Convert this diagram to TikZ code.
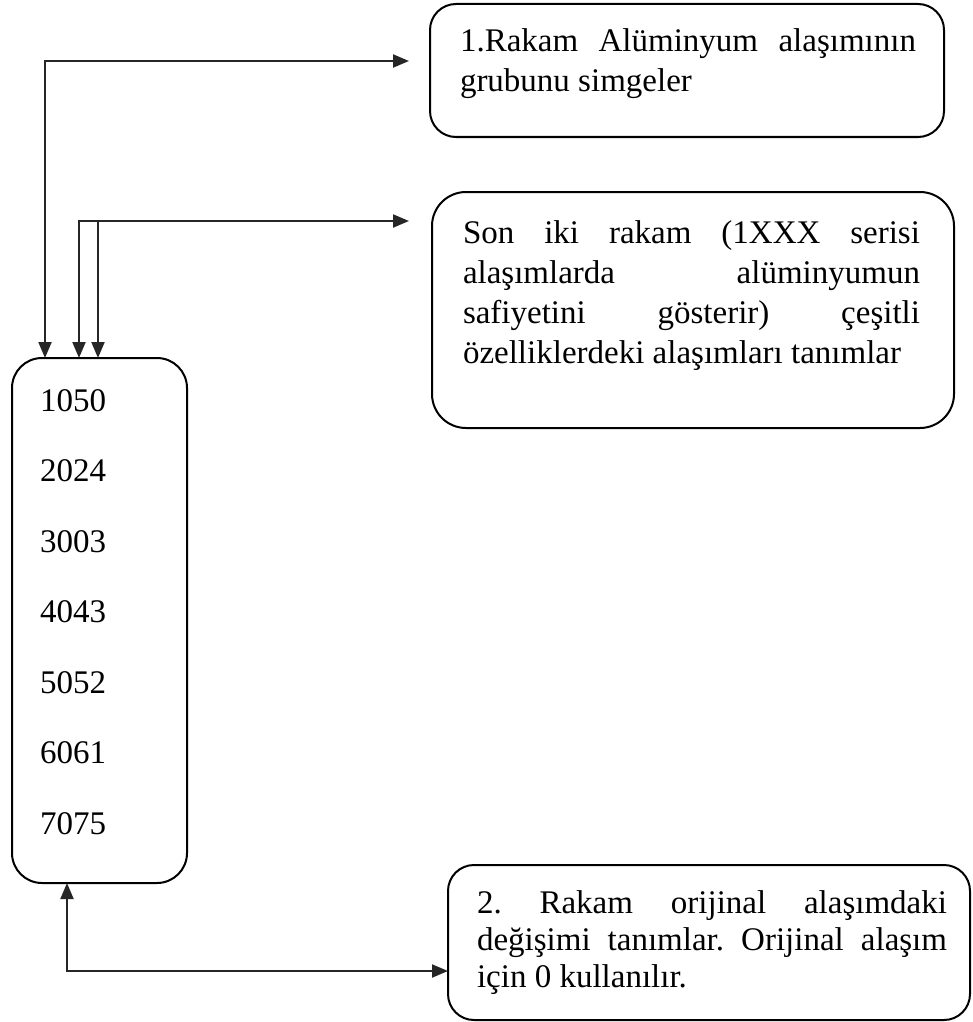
\documentclass[tikz,border=0pt]{standalone}
\usepackage{fontspec}
\setmainfont{Liberation Serif}
\usetikzlibrary{arrows.meta,calc}
\frenchspacing
\begin{document}
\begin{tikzpicture}[x=1pt,y=-1pt,
  box/.style={draw=black, line width=2pt, rounded corners=26pt, inner sep=0pt, outer sep=0pt, anchor=north west},
  txt/.style={font=\fontsize{33}{40}\selectfont\frenchspacing, inner sep=0pt, outer sep=0pt, anchor=base west, text=black},
  conn/.style={draw=black!85, line width=2pt},
  tip/.style={-{Triangle[length=16pt,width=13pt]}},
  bitip/.style={{Triangle[length=16pt,width=13pt]}-{Triangle[length=16pt,width=13pt]}}
]
\useasboundingbox (0,0) rectangle (973,1022);
\fill[white] (0,0) rectangle (973,1022);

% boxes
\node[box, minimum width=175pt, minimum height=525pt, rounded corners=30pt] (nums) at (12,358) {};
\node[box, minimum width=514pt, minimum height=133pt] (b1) at (430,4) {};
\node[box, minimum width=522pt, minimum height=236pt, rounded corners=34pt] (b2) at (432,192) {};
\node[box, minimum width=522pt, minimum height=155pt] (b3) at (448,865) {};

% numbers
\node[txt] (n1) at (40,411) {1050};
\node[txt] (n2) at (40,481.5) {2024};
\node[txt] (n3) at (40,552) {3003};
\node[txt] (n4) at (40,622.5) {4043};
\node[txt] (n5) at (40,693) {5052};
\node[txt] (n6) at (40,763.5) {6061};
\node[txt] (n7) at (40,834) {7075};

% box 1 text
\node[txt] (t11) at (460,52) {\makebox[456pt][s]{1.Rakam Alüminyum alaşımının}};
\node[txt] (t12) at (460,92) {grubunu simgeler};

% box 2 text
\node[txt] (t21) at (463,243) {\makebox[457pt][s]{Son iki rakam (1XXX serisi}};
\node[txt] (t22) at (463,283) {\makebox[457pt][s]{alaşımlarda alüminyumun}};
\node[txt] (t23) at (463,323) {\makebox[457pt][s]{safiyetini gösterir) çeşitli}};
\node[txt] (t24) at (463,363) {özelliklerdeki alaşımları tanımlar};

% box 3 text
\node[txt] (t31) at (477,913) {\makebox[470pt][s]{2. Rakam orijinal alaşımdaki}};
\node[txt] (t32) at (477,950) {\makebox[470pt][s]{değişimi tanımlar. Orijinal alaşım}};
\node[txt] (t33) at (477,987) {için 0 kullanılır.};

% connector ends
\coordinate (a1end) at (409,61);
\coordinate (a2end) at (409,221);
\coordinate (j2) at (98,221);
\coordinate (a3end) at (448,971);

% connectors
\draw[conn, bitip] ($(nums.north west)+(33,0)$) |- (a1end);
\draw[conn, bitip] ($(nums.north west)+(67,0)$) |- (a2end);
\draw[conn, tip] (j2) -- (j2 |- nums.north);
\draw[conn, bitip] ($(nums.south west)+(55,0)$) |- (a3end);
\end{tikzpicture}
\end{document}
